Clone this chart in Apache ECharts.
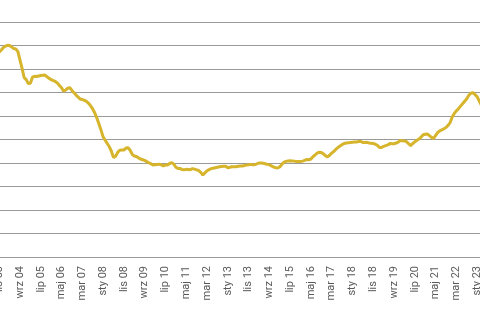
<!DOCTYPE html>
<html>
<head>
<meta charset="utf-8">
<script src="https://cdn.jsdelivr.net/npm/echarts@6/dist/echarts.min.js"></script>
<style>
  html, body { margin: 0; padding: 0; background: #fff; }
  #chart { width: 480px; height: 320px; }
</style>
</head>
<body>
<div id="chart"></div>
<script>
// miesiące (PL), seria zaczyna się w listopadzie 2003
const monthNames = ['sty', 'lut', 'mar', 'kwi', 'maj', 'cze', 'lip', 'sie', 'wrz', 'paź', 'lis', 'gru']
const startYear = 2003
const startMonth = 10 // lis

// wartości miesięczne (1 jednostka = 1 linia siatki)
const values = [
  8.72, 8.81, 8.91, 8.97, 9.01, 9.00, 8.94, 8.87, 8.85, 8.74,
  8.38, 8.03, 7.64, 7.55, 7.38, 7.39, 7.65, 7.69, 7.68, 7.70,
  7.72, 7.73, 7.74, 7.67, 7.60, 7.55, 7.51, 7.47, 7.40, 7.30,
  7.20, 7.05, 7.11, 7.18, 7.20, 7.09, 6.99, 6.89, 6.80, 6.72,
  6.70, 6.67, 6.62, 6.54, 6.43, 6.30, 6.13, 5.91, 5.66, 5.40,
  5.11, 4.97, 4.83, 4.69, 4.50, 4.23, 4.29, 4.45, 4.54, 4.55,
  4.55, 4.64, 4.65, 4.54, 4.37, 4.30, 4.28, 4.22, 4.17, 4.14,
  4.11, 4.06, 4.01, 3.97, 3.91, 3.93, 3.94, 3.95, 3.92, 3.88,
  3.91, 3.91, 3.98, 4.01, 3.96, 3.82, 3.77, 3.77, 3.72, 3.71,
  3.73, 3.72, 3.71, 3.76, 3.74, 3.71, 3.68, 3.60, 3.49, 3.58,
  3.67, 3.72, 3.76, 3.78, 3.80, 3.82, 3.84, 3.85, 3.86, 3.86,
  3.80, 3.82, 3.84, 3.84, 3.84, 3.86, 3.87, 3.87, 3.89, 3.91,
  3.93, 3.94, 3.92, 3.93, 3.96, 4.00, 4.00, 3.99, 3.97, 3.94,
  3.92, 3.88, 3.83, 3.80, 3.79, 3.83, 3.94, 4.03, 4.07, 4.09,
  4.10, 4.09, 4.08, 4.06, 4.06, 4.06, 4.08, 4.11, 4.15, 4.14,
  4.17, 4.27, 4.34, 4.42, 4.46, 4.45, 4.39, 4.31, 4.26, 4.33,
  4.42, 4.49, 4.58, 4.66, 4.72, 4.78, 4.83, 4.85, 4.86, 4.87,
  4.88, 4.89, 4.89, 4.92, 4.92, 4.87, 4.87, 4.88, 4.85, 4.84,
  4.83, 4.80, 4.75, 4.66, 4.66, 4.71, 4.74, 4.77, 4.83, 4.82,
  4.82, 4.85, 4.89, 4.96, 4.95, 4.94, 4.91, 4.82, 4.74, 4.83,
  4.90, 4.97, 5.02, 5.10, 5.20, 5.22, 5.23, 5.17, 5.09, 5.04,
  5.17, 5.29, 5.37, 5.41, 5.46, 5.51, 5.60, 5.72, 5.96, 6.11,
  6.22, 6.31, 6.42, 6.52, 6.63, 6.73, 6.88, 6.97, 6.99, 6.91,
  6.82, 6.64, 6.47
]

const categories = values.map((v, i) => {
  const m = startMonth + i
  const y = startYear + Math.floor(m / 12)
  return monthNames[m % 12] + ' ' + String(y % 100).padStart(2, '0')
})

const chart = echarts.init(document.getElementById('chart'), null, { renderer: 'canvas' })

chart.setOption({
  animation: false,
  grid: {
    left: -0.8,
    right: -1.3,
    top: 22,
    bottom: 63,
    containLabel: false,
    outerBoundsMode: 'none'
  },
  xAxis: {
    type: 'category',
    data: categories,
    boundaryGap: false,
    axisLine: { lineStyle: { color: '#9a9a9a', width: 1 } },
    axisTick: { show: false },
    axisLabel: {
      interval: 9,
      rotate: 90,
      margin: 9,
      color: '#595959',
      fontSize: 11,
      fontFamily: 'Roboto'
    }
  },
  yAxis: {
    type: 'value',
    min: 0,
    max: 10,
    interval: 1,
    axisLabel: { show: false },
    axisLine: { show: false },
    axisTick: { show: false },
    splitLine: { lineStyle: { color: '#9a9a9a', width: 1 } }
  },
  series: [{
    type: 'line',
    data: values,
    symbol: 'none',
    smooth: false,
    lineStyle: { color: '#d6b42b', width: 3 }
  }]
})
</script>
</body>
</html>
